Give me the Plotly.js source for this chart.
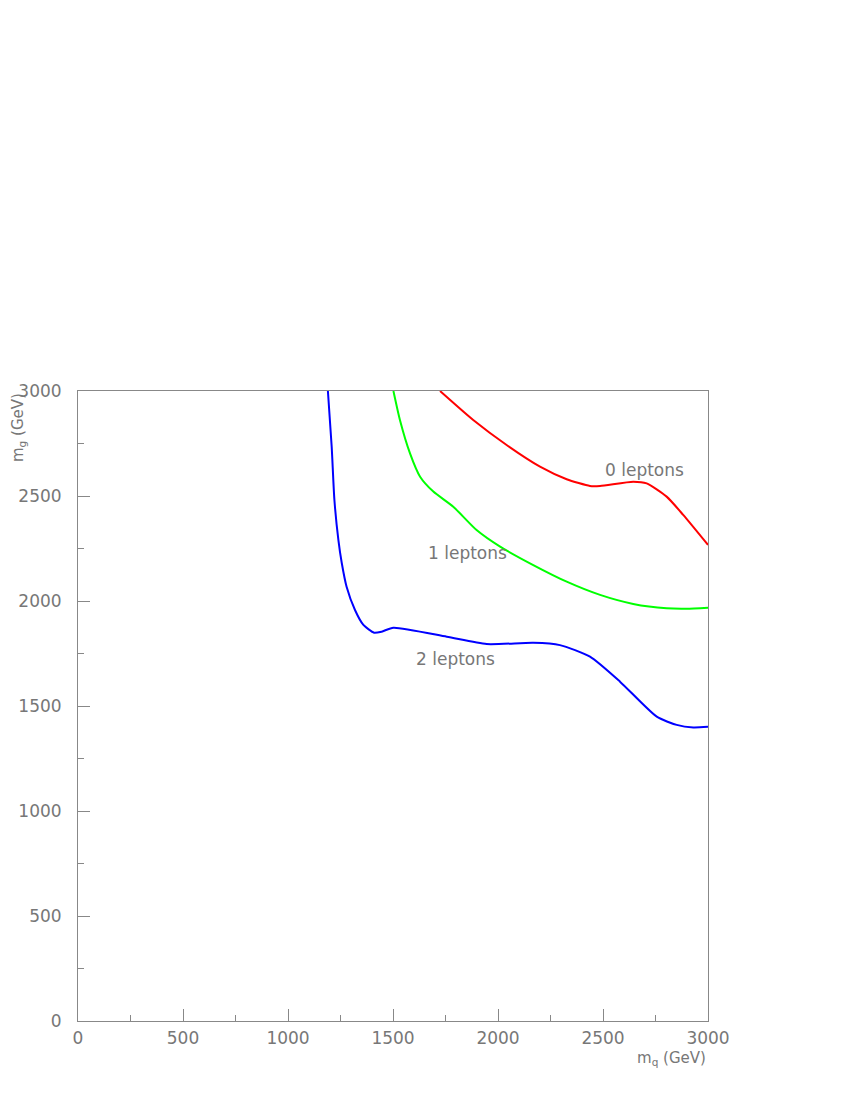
<!DOCTYPE html>
<html>
<head>
<meta charset="utf-8">
<script src="https://cdn.plot.ly/plotly-3.0.1.min.js"></script>
<style>
  body { margin: 0; background: #fff; }
  #plot { width: 850px; height: 1100px; }
</style>
</head>
<body>
<div id="plot"></div>
<script>
// 0 leptons
let mq0 = [1724, 1882, 2041, 2200, 2327, 2438, 2486, 2644, 2708, 2803, 2882, 3000];
let mg0 = [3000, 2862, 2743, 2640, 2580, 2548, 2548, 2568, 2560, 2497, 2410, 2267];

// 1 leptons
let mq1 = [1502, 1533, 1581, 1629, 1692, 1787, 1898, 2010, 2168, 2327, 2486, 2644, 2803, 2898, 3000];
let mg1 = [3000, 2862, 2703, 2592, 2521, 2449, 2338, 2259, 2171, 2092, 2029, 1986, 1965, 1963, 1968];

// 2 leptons
let mq2 = [1190, 1208, 1221, 1240, 1256, 1279, 1319, 1359, 1410, 1446, 1502, 1756, 1946, 2168, 2295, 2438, 2581, 2756, 2851, 2930, 3000];
let mg2 = [3000, 2735, 2481, 2290, 2181, 2068, 1957, 1886, 1849, 1854, 1873, 1830, 1795, 1801, 1790, 1735, 1616, 1449, 1410, 1398, 1401];

let labelText = ['0 leptons', '1 leptons', '2 leptons'];
let labelX = [2500, 1655, 1600];
let labelY = [2624, 2229, 1724];

let tickVals = [0, 500, 1000, 1500, 2000, 2500, 3000];

let txtFont = {family: 'DejaVu Sans, sans-serif', size: 17, color: '#777'};

function curve(x, y, col) {
    return {
        x: x, y: y,
        mode: 'lines',
        line: {color: col, width: 2, shape: 'spline', smoothing: 0.6},
        hoverinfo: 'none',
        showlegend: false
    };
}

let traces = [
    curve(mq0, mg0, '#ff0000'),
    curve(mq1, mg1, '#00ff00'),
    curve(mq2, mg2, '#0000ff')
];

let annots = [];
for (let i = 0; i < labelText.length; i++) {
    annots.push({
        x: labelX[i], y: labelY[i], xref: 'x', yref: 'y',
        text: labelText[i], showarrow: false,
        xanchor: 'left', yanchor: 'middle',
        font: txtFont
    });
}
// axis titles
annots.push({
    x: 1, y: 0, xref: 'paper', yref: 'paper',
    xanchor: 'right', yanchor: 'top', yshift: -26,
    text: 'm<sub>q</sub> (GeV)', showarrow: false,
    font: {family: 'DejaVu Sans, sans-serif', size: 15, color: '#777'}
});
annots.push({
    x: 0, y: 1, xref: 'paper', yref: 'paper',
    xanchor: 'right', yanchor: 'top', xshift: -48,
    textangle: -90,
    text: 'm<sub>g</sub> (GeV)', showarrow: false,
    font: {family: 'DejaVu Sans, sans-serif', size: 15, color: '#777'}
});

function axis() {
    return {
        range: [0, 3000],
        tickvals: tickVals,
        ticks: 'inside', ticklen: 12, tickwidth: 1, tickcolor: '#888',
        minor: {ticks: 'inside', ticklen: 6, tickwidth: 1, tickcolor: '#888', dtick: 250, showgrid: false},
        showline: true, linecolor: '#888', linewidth: 1, mirror: true,
        showgrid: false, zeroline: false,
        tickfont: txtFont,
        fixedrange: true
    };
}

let layout = {
    width: 850, height: 1100,
    margin: {l: 78, r: 142, t: 391, b: 79, pad: 0},
    paper_bgcolor: '#fff', plot_bgcolor: '#fff',
    xaxis: axis(),
    yaxis: axis(),
    annotations: annots
};
layout.yaxis.ticklabelstandoff = 12;
layout.xaxis.ticklabelstandoff = 2;

Plotly.newPlot('plot', traces, layout, {displayModeBar: false, staticPlot: true});
</script>
</body>
</html>
